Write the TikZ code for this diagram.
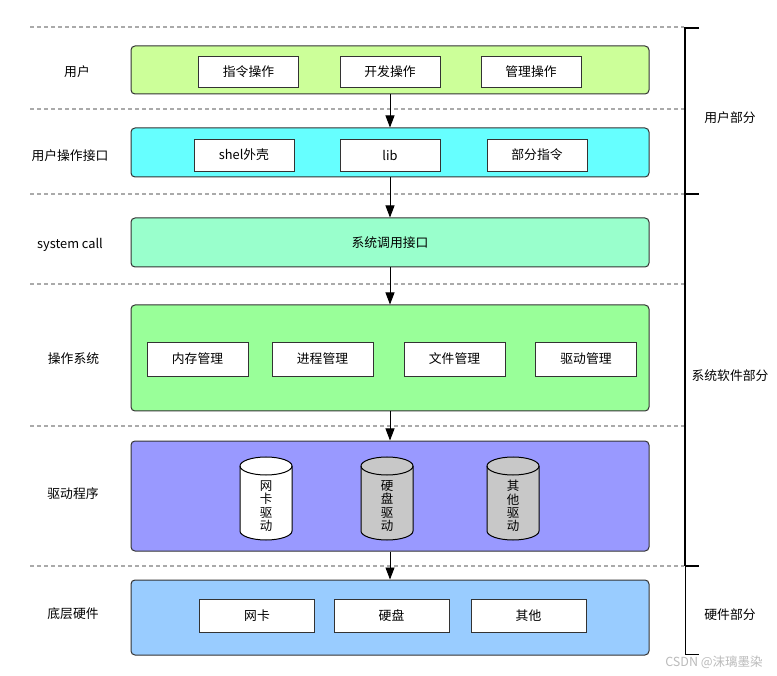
\documentclass[tikz,border=0pt]{standalone}
\usepackage{fontspec}
\setmainfont{Noto Sans CJK SC}
\usetikzlibrary{arrows.meta}
\definecolor{linec}{HTML}{333333}
\definecolor{sepgray}{HTML}{AAAAAA}
\definecolor{userfill}{HTML}{CCFF99}
\definecolor{uiffill}{HTML}{66FFFF}
\definecolor{scfill}{HTML}{99FFCC}
\definecolor{osfill}{HTML}{99FF99}
\definecolor{drvfill}{HTML}{9999FF}
\definecolor{hwfill}{HTML}{99CCFF}
\definecolor{cylgray}{HTML}{C8C8C8}
\definecolor{wmgray}{HTML}{BBBBBB}
\begin{document}
\begin{tikzpicture}[x=1pt,y=-1pt,
  font=\fontsize{12.8}{14}\selectfont,
  layer/.style={draw=linec, line width=1pt, rounded corners=4pt, minimum width=518pt, inner sep=0pt},
  item/.style={draw=linec, line width=0.9pt, fill=white, minimum height=31pt, minimum width=100pt, inner sep=0pt},
  sepline/.style={draw=sepgray, line width=1.1pt, dash pattern=on 4pt off 3pt},
  flow/.style={-{Triangle[length=12pt,width=9pt]}, line width=0.9pt, draw=black},
  cylbody/.style={draw=black, line width=1pt},
  cyltext/.style={align=center, inner sep=0pt, font=\fontsize{12.5}{13.4}\selectfont},
  lbl/.style={inner sep=0pt},
  brk/.style={draw=black, line width=1.8pt},
  brkthin/.style={draw=black, line width=1pt}
]
\useasboundingbox (0,0) rectangle (777,676);
\fill[white] (0,0) rectangle (777,676);

% separators
\foreach \yy in {27,109,194,284,426,566}
  \draw[sepline] (30,\yy) -- (684,\yy);

% layers
\node[layer, fill=userfill, minimum height=48pt] (user) at (390,70) {};
\node[layer, fill=uiffill, minimum height=49pt] (uif) at (390,152.5) {};
\node[layer, fill=scfill, minimum height=49pt] (sc) at (390,242.5) {系统调用接口};
\node[layer, fill=osfill, minimum height=106pt] (os) at (390,358) {};
\node[layer, fill=drvfill, minimum height=110pt] (drv) at (390,496) {};
\node[layer, fill=hwfill, minimum height=75pt] (hw) at (390,617.5) {};

% items
\node[item] (zl) at (248.5,72) {指令操作};
\node[item] (kf) at (390,72) {开发操作};
\node[item] (gl) at (531,72) {管理操作};

\node[item, minimum height=32pt] (shell) at (244,155) {shel外壳};
\node[item, minimum height=32pt] (lib) at (390,155) {lib};
\node[item, minimum height=32pt] (bf) at (537,155) {部分指令};

\node[item, minimum height=34pt, minimum width=101pt] (nc) at (197.5,359) {内存管理};
\node[item, minimum height=34pt, minimum width=101pt] (jc) at (322.5,359) {进程管理};
\node[item, minimum height=34pt, minimum width=101pt] (wj) at (454.5,359) {文件管理};
\node[item, minimum height=34pt, minimum width=101pt] (qd) at (586,359) {驱动管理};

\node[item, minimum height=33pt, minimum width=115pt] (wk) at (257,615.5) {网卡};
\node[item, minimum height=33pt, minimum width=115pt] (yp) at (391.5,615.5) {硬盘};
\node[item, minimum height=33pt, minimum width=115pt] (qt) at (528.5,615.5) {其他};

% cylinders
\foreach \cx/\cf in {266/white,387/cylgray,513/cylgray}{
  \draw[cylbody, fill=\cf] ({\cx-26},466) -- ({\cx-26},531)
    arc[start angle=180, end angle=360, x radius=26pt, y radius=9pt]
    -- ({\cx+26},466)
    arc[start angle=0, end angle=180, x radius=26pt, y radius=9pt] -- cycle;
  \draw[cylbody] ({\cx-26},466)
    arc[start angle=180, end angle=360, x radius=26pt, y radius=9pt];
}
\node[cyltext] (c1) at (266,506) {网\\卡\\驱\\动};
\node[cyltext] (c2) at (387,506) {硬\\盘\\驱\\动};
\node[cyltext] (c3) at (513,506) {其\\他\\驱\\动};

% arrows
\draw[flow] (user) -- (uif);
\draw[flow] (uif) -- (sc);
\draw[flow] (sc) -- (os);
\draw[flow] (os) -- (drv);
\draw[flow] (drv) -- (hw);

% left labels
\node[lbl] (l1) at (77,72) {用户};
\node[lbl] (l2) at (70,156) {用户操作接口};
\node[lbl] (l3) at (70,245) {system call};
\node[lbl] (l4) at (73.5,359) {操作系统};
\node[lbl] (l5) at (73,494) {驱动程序};
\node[lbl] (l6) at (73,614) {底层硬件};

% brackets
\coordinate (b0) at (699,28);
\coordinate (b1) at (685,28);
\coordinate (b2) at (685,194);
\coordinate (b3) at (699,194);
\coordinate (b4) at (685,566);
\coordinate (b5) at (699,566);
\coordinate (b6) at (685,654);
\coordinate (b7) at (699,654);
\draw[brk] (b0) -- (b1) -- (b4);
\draw[brk] (b2) -- (b3);
\draw[brk] (b4) -- (b5);
\draw[brkthin] (b4) -- (b6) -- (b7);

% right labels
\node[lbl] (r1) at (730,118) {用户部分};
\node[lbl] (r2) at (730,376) {系统软件部分};
\node[lbl] (r3) at (730,615) {硬件部分};

% watermark
\node[lbl, text=wmgray, font=\fontsize{12.5}{14}\selectfont] (wm) at (714,662) {CSDN @沫璃墨染};
\end{tikzpicture}
\end{document}
